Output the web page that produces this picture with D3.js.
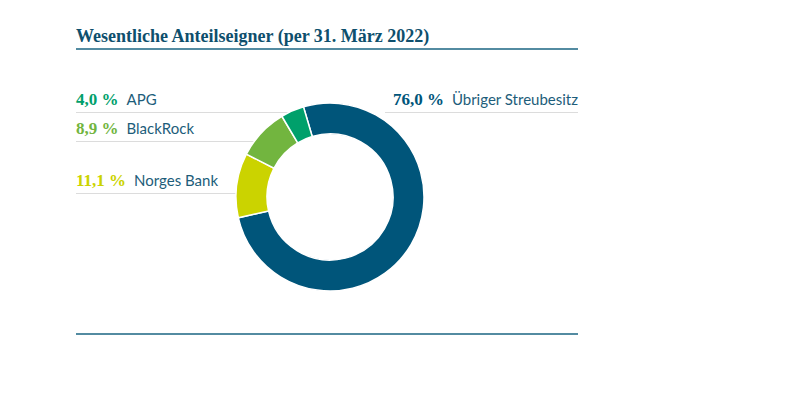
<!DOCTYPE html>
<html>
<head>
<meta charset="utf-8">
<script src="https://cdn.jsdelivr.net/npm/d3@7"></script>
<style>
  body { margin: 0; background: #fff; }
  .pct { font-family: 'Liberation Serif', serif; font-weight: bold; font-size: 17px; }
  .lbl { font-family: Lato, sans-serif; font-size: 15px; fill: #1d5d7a; }
</style>
</head>
<body>
<svg id="chart" width="797" height="404"></svg>
<script>
  'use strict';

  var holders  = [ 'Übriger Streubesitz', 'Norges Bank', 'BlackRock', 'APG' ],
      shares   = [ 76.0, 11.1, 8.9, 4.0 ],
      pctTexts = [ '76,0 %', '11,1 %', '8,9 %', '4,0 %' ],
      colors   = [ '#00557a', '#cbd300', '#72b53f', '#00a06b' ];

  var title = 'Wesentliche Anteilseigner (per 31. März 2022)';

  var svg = d3.select( '#chart' );

  var cx = 330, cy = 197,
      outer = 94, inner = 63,
      left = 76, right = 578;

  // Title and rules.
  svg.append( 'text' )
    .attr( 'x', left )
    .attr( 'y', 42 )
    .attr( 'fill', '#0e4f6d' )
    .style( 'font-family', "'Liberation Serif', serif" )
    .style( 'font-weight', 'bold' )
    .style( 'font-size', '18px' )
    .text( title );

  [ 49, 334 ].forEach( function( y ) {
    svg.append( 'line' )
      .attr( 'x1', left ).attr( 'x2', right )
      .attr( 'y1', y ).attr( 'y2', y )
      .attr( 'stroke', '#1a6482' )
      .attr( 'stroke-width', 1.3 );
  });

  // Label rows: baseline and side.
  var rows = [
    { i: 3, y: 105, side: 'left' },
    { i: 2, y: 134, side: 'left' },
    { i: 1, y: 186, side: 'left' },
    { i: 0, y: 105, side: 'right' }
  ];

  function edgeX( y, side ) {
    var dy = y - cy;
    var dx = Math.abs( dy ) < outer ? Math.sqrt( outer * outer - dy * dy ) : 0;
    return side === 'left' ? cx - dx : cx + dx;
  }

  rows.forEach( function( r ) {
    var ly = r.y + 7.5;
    var g = svg.append( 'g' );
    if ( r.side === 'left' ) {
      g.append( 'line' )
        .attr( 'x1', left ).attr( 'x2', edgeX( ly, 'left' ) )
        .attr( 'y1', ly ).attr( 'y2', ly )
        .attr( 'stroke', '#dcdcdc' );
      var p = g.append( 'text' )
        .attr( 'class', 'pct' )
        .attr( 'x', left ).attr( 'y', r.y )
        .attr( 'fill', colors[ r.i ] )
        .text( pctTexts[ r.i ] );
      var w = p.node().getComputedTextLength();
      g.append( 'text' )
        .attr( 'class', 'lbl' )
        .attr( 'x', left + w + 8 ).attr( 'y', r.y )
        .text( holders[ r.i ] );
    } else {
      g.append( 'line' )
        .attr( 'x1', 385 ).attr( 'x2', right )
        .attr( 'y1', ly ).attr( 'y2', ly )
        .attr( 'stroke', '#dcdcdc' );
      var l = g.append( 'text' )
        .attr( 'class', 'lbl' )
        .attr( 'x', right ).attr( 'y', r.y )
        .attr( 'text-anchor', 'end' )
        .text( holders[ r.i ] );
      var lw = l.node().getComputedTextLength();
      g.append( 'text' )
        .attr( 'class', 'pct' )
        .attr( 'x', right - lw - 8 ).attr( 'y', r.y )
        .attr( 'text-anchor', 'end' )
        .attr( 'fill', colors[ r.i ] )
        .text( pctTexts[ r.i ] );
    }
  });

  // Donut.
  var start = -16.4 * Math.PI / 180;
  var pie = d3.pie()
    .sort( null )
    .startAngle( start )
    .endAngle( start + 2 * Math.PI );

  var arc = d3.arc()
    .innerRadius( inner )
    .outerRadius( outer );

  svg.append( 'g' )
    .attr( 'transform', 'translate(' + cx + ',' + cy + ')' )
    .selectAll( 'path' )
    .data( pie( shares ) )
    .enter()
    .append( 'path' )
      .attr( 'd', arc )
      .attr( 'fill', function( d, i ) { return colors[ i ]; } )
      .attr( 'stroke', '#fff' )
      .attr( 'stroke-width', 1.5 );
</script>
</body>
</html>
